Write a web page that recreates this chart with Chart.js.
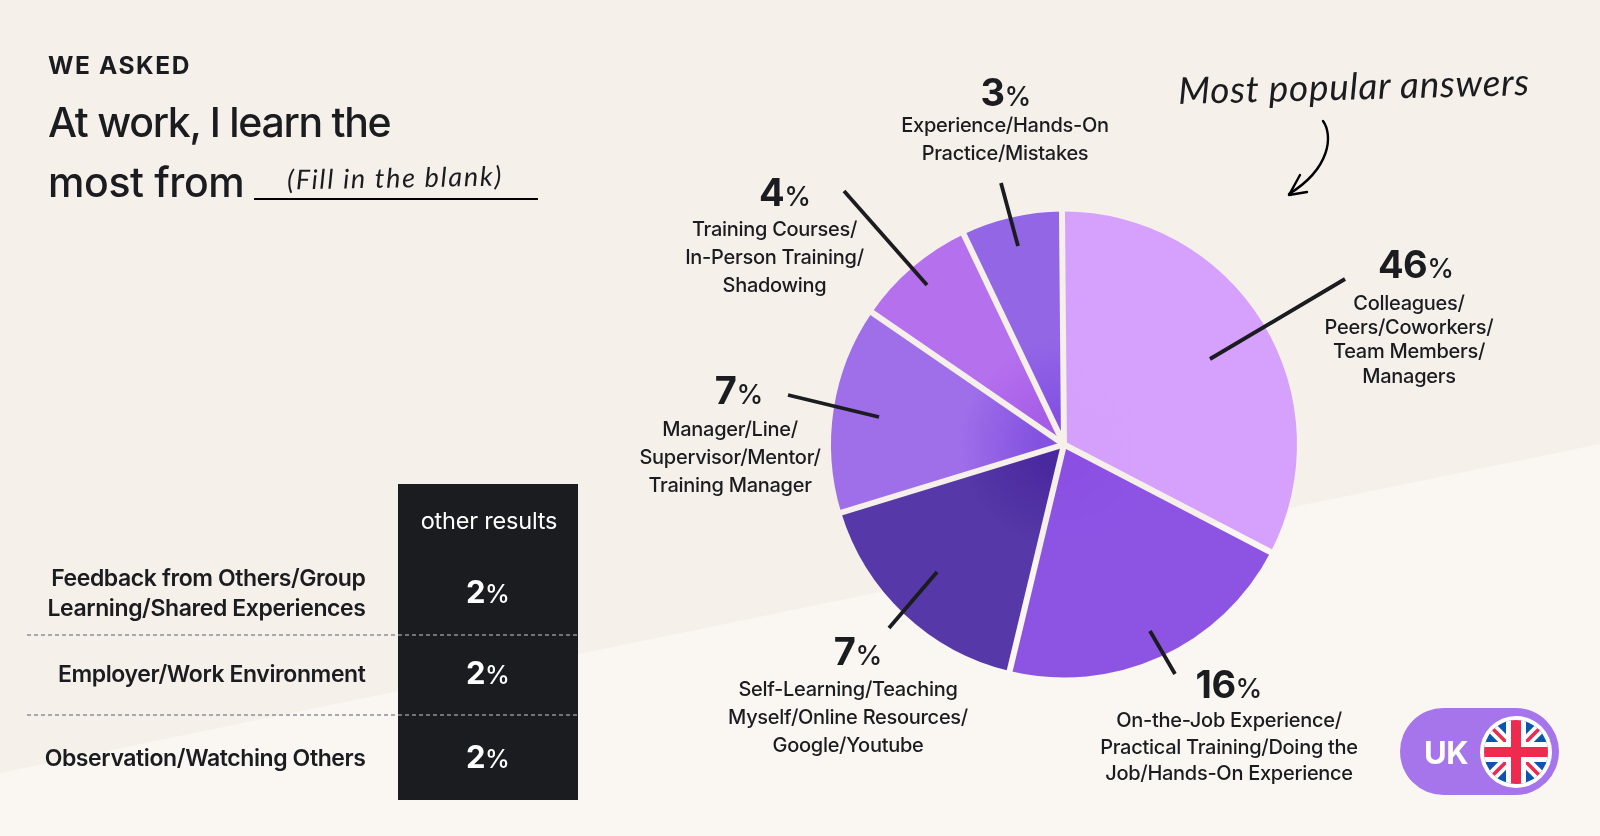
<!DOCTYPE html>
<html>
<head>
<meta charset="utf-8">
<title>At work, I learn the most from</title>
<script src="https://cdn.jsdelivr.net/npm/chart.js@4/dist/chart.umd.min.js"></script>
<style>
  html, body { margin: 0; padding: 0; }
  body { width: 1600px; height: 836px; overflow: hidden; position: relative; background: #f5f0ea; font-family: Inter, 'Noto Sans', sans-serif; color: #1a1c20; }
  #bg, #notes { position: absolute; left: 0; top: 0; }
  #pie { position: absolute; left: 0; top: 0; }
  .t { position: absolute; white-space: nowrap; }
  .c { transform: translate(-50%, -50%); text-align: center; }
  .r { transform: translate(-100%, -50%); text-align: right; }
  .num { font-weight: 700; font-size: 38px; letter-spacing: -0.5px; }
  .pct { font-weight: 500; font-size: 27px; }
  .lbl { font-size: 20px; font-weight: 500; letter-spacing: -0.28px; }
  .row { font-size: 23px; font-weight: 600; letter-spacing: -0.4px; }
  .hand { font-family: Lato, sans-serif; font-style: italic; font-weight: 400; }
  .rownum { color: #fff; }
  .rownum .num { font-size: 31px; font-weight: 700; }
  .rownum .pct { font-size: 25px; }
</style>
</head>
<body>
<svg id="bg" width="1600" height="836"><polygon points="0,773 1600,444 1600,836 0,836" fill="#faf6f2"/></svg>
<canvas id="pie" width="1600" height="836"></canvas>
<svg id="notes" width="1600" height="836"></svg>
<div id="texts"></div>
<script>
// --- data ---
const answers = [
  ['Colleagues/', 'Peers/Coworkers/', 'Team Members/', 'Managers'],
  ['On-the-Job Experience/', 'Practical Training/Doing the', 'Job/Hands-On Experience'],
  ['Self-Learning/Teaching', 'Myself/Online Resources/', 'Google/Youtube'],
  ['Manager/Line/', 'Supervisor/Mentor/', 'Training Manager'],
  ['Training Courses/', 'In-Person Training/', 'Shadowing'],
  ['Experience/Hands-On', 'Practice/Mistakes']
];
const answerPct = [46, 16, 7, 7, 4, 3];
// slice sizes as drawn in the picture (degrees) - the picture is not to scale with the percentages
const sliceSweep = [118, 76, 59.5, 51.5, 30, 25];
const innerColors = ['#d5a0fb', '#8b50e3', '#4a299e', '#8352e0', '#a55ce6', '#8350e2'];
const outerColors = ['#d6a1fc', '#8d54e4', '#5638a8', '#9f6ee9', '#b570ee', '#9366e6'];

const otherLabels = [['Feedback from Others/Group', 'Learning/Shared Experiences'], ['Employer/Work Environment'], ['Observation/Watching Others']];
const otherPct = [2, 2, 2];

// --- layout for the callouts ---
const calloutNum = [[1416, 264], [1229, 684], [858, 651], [739, 390], [785, 192], [1006, 92]];
const calloutLines = [
  [1409, [303, 326.5, 351, 375.5]],
  [1229, [720, 747, 772.5]],
  [848, [689, 717, 745]],
  [730, [428.6, 457, 484.7]],
  [774.5, [228.6, 257, 284.7]],
  [1005, [124.5, 153]]
];
const leaders = [
  [1210, 359, 1345, 279],
  [1150, 631, 1175, 674],
  [937, 572, 889, 628],
  [879, 417, 788, 395],
  [927, 285, 844, 191],
  [1018, 246, 1001, 183]
];
const otherRowY = [[578, 608], [674], [758]];
const otherNumY = [591, 672, 756];

const texts = document.getElementById('texts');
function addText(x, y, html, cls, style) {
  const d = document.createElement('div');
  d.className = 't ' + (cls || '');
  d.style.left = x + 'px';
  d.style.top = y + 'px';
  d.innerHTML = html;
  if (style) d.style.cssText += style;
  texts.appendChild(d);
  return d;
}

// header
addText(48, 65, 'WE ASKED', '', 'transform:translateY(-50%);font-size:24.5px;font-weight:700;letter-spacing:1.6px;');
addText(48, 122, 'At work, I learn the', '', 'transform:translateY(-50%);font-size:41px;font-weight:500;letter-spacing:-1.3px;');
addText(48, 182, 'most from', '', 'transform:translateY(-50%);font-size:41px;font-weight:500;letter-spacing:-0.4px;');
addText(287, 177, '(Fill in the blank)', 'hand', 'transform:translateY(-50%) rotate(-1deg);font-size:27px;letter-spacing:1.7px;');
addText(1178, 85, 'Most popular answers', 'hand', 'transform:translateY(-50%) rotate(-1.5deg);font-size:37px;letter-spacing:0.7px;');

// callouts
answers.forEach((lines, i) => {
  addText(calloutNum[i][0], calloutNum[i][1], `<span class="num">${answerPct[i]}</span><span class="pct">%</span>`, 'c');
  lines.forEach((line, j) => {
    addText(calloutLines[i][0], calloutLines[i][1][j], line, 'c lbl');
  });
});

// other results table
const notes = document.getElementById('notes');
let svg = '';
svg += '<rect x="398" y="484" width="180" height="316" fill="#1a1c20"/>';
svg += '<line x1="254" y1="199" x2="538" y2="199" stroke="#000" stroke-width="2"/>';
[635, 715].forEach(y => {
  svg += `<line x1="27" y1="${y}" x2="578" y2="${y}" stroke="#8f8f9b" stroke-width="1.3" stroke-dasharray="4 3"/>`;
});
leaders.forEach(l => {
  svg += `<line x1="${l[0]}" y1="${l[1]}" x2="${l[2]}" y2="${l[3]}" stroke="#1a1c20" stroke-width="3.8"/>`;
});
// arrow
svg += '<path d="M1323 121 C1333 135 1331 168 1289 194" fill="none" stroke="#000" stroke-width="2.4" stroke-linecap="round"/>';
svg += '<path d="M1300 175 L1289 195 L1307 192" fill="none" stroke="#000" stroke-width="2.4" stroke-linecap="round" stroke-linejoin="round"/>';
// UK pill and flag
svg += '<rect x="1400" y="708" width="159" height="87" rx="43.5" fill="#a675ec"/>';
svg += '<clipPath id="flagClip"><circle cx="1516" cy="752" r="32"/></clipPath>';
svg += '<circle cx="1516" cy="752" r="36" fill="#fff"/>';
svg += '<g clip-path="url(#flagClip)">';
svg += '<rect x="1480" y="716" width="72" height="72" fill="#0a55b0"/>';
svg += '<path d="M1484 720 L1548 784 M1548 720 L1484 784" stroke="#fff" stroke-width="11"/>';
svg += '<path d="M1488 724 L1510 746 M1522 758 L1544 780 M1544 724 L1522 746 M1510 758 L1488 780" stroke="#ee2a4e" stroke-width="3.6"/>';
svg += '<path d="M1516 716 V788 M1480 752 H1552" stroke="#fff" stroke-width="20"/>';
svg += '<path d="M1516 716 V788 M1480 752 H1552" stroke="#ee2a4e" stroke-width="10"/>';
svg += '</g>';
notes.innerHTML = svg;

addText(1446, 752, 'UK', 'c', 'color:#fff;font-size:31px;font-weight:700;letter-spacing:-0.5px;');
addText(489, 520, 'other results', 'c', 'color:#fff;font-size:23.5px;font-weight:400;letter-spacing:-0.2px;');
otherLabels.forEach((lines, i) => {
  lines.forEach((line, j) => addText(365.5, otherRowY[i][j], line, 'r row'));
  addText(488, otherNumY[i], `<span class="num">${otherPct[i]}</span><span class="pct">%</span>`, 'c rownum');
});

// --- pie ---
function sliceFill(ctx) {
  const chart = ctx.chart;
  const area = chart.chartArea;
  if (!area) return outerColors[ctx.dataIndex];
  const cx = (area.left + area.right) / 2;
  const cy = (area.top + area.bottom) / 2;
  const r = Math.min(area.width, area.height) / 2;
  const g = chart.ctx.createRadialGradient(cx, cy, 0, cx, cy, r);
  g.addColorStop(0.12, innerColors[ctx.dataIndex]);
  g.addColorStop(0.45, outerColors[ctx.dataIndex]);
  return g;
}

// cuts see-through gaps of even width between the slices, so the page background shows
const sliceGaps = {
  id: 'sliceGaps',
  afterDatasetsDraw(chart) {
    const c = chart.ctx;
    c.save();
    c.globalCompositeOperation = 'destination-out';
    c.lineWidth = 6;
    chart.getDatasetMeta(0).data.forEach(arc => {
      c.beginPath();
      c.moveTo(arc.x, arc.y);
      c.lineTo(arc.x + Math.cos(arc.startAngle) * (arc.outerRadius + 3), arc.y + Math.sin(arc.startAngle) * (arc.outerRadius + 3));
      c.stroke();
    });
    c.restore();
  }
};

new Chart(document.getElementById('pie').getContext('2d'), {
  type: 'pie',
  data: {
    labels: answers.map(a => a.join(' ')),
    datasets: [{
      data: sliceSweep,
      backgroundColor: sliceFill,
      borderWidth: 0
    }]
  },
  options: {
    responsive: false,
    animation: false,
    rotation: -0.5,
    layout: { padding: { left: 830.5, right: 302.5, top: 211.5, bottom: 158.5 } },
    plugins: { legend: { display: false }, tooltip: { enabled: false } }
  },
  plugins: [sliceGaps]
});
</script>
</body>
</html>
